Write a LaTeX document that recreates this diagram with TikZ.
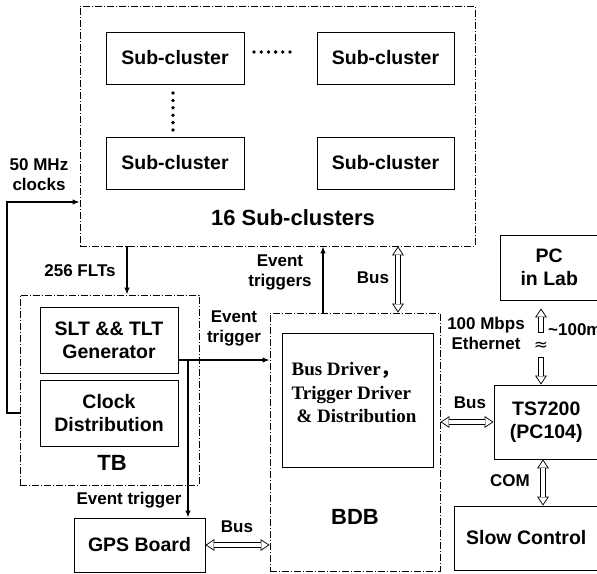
\documentclass[tikz,border=0pt]{standalone}
\usepackage{fontspec}
\setmainfont{Liberation Sans}
\newfontfamily\serifb{Liberation Serif}
\newfontfamily\cjk{Noto Sans CJK SC}
\newfontfamily\dejavu{DejaVu Sans}
\usetikzlibrary{arrows.meta,calc}
\newcommand\hollowarrow[2]{%
  \draw[hollowouter, htipA-htipA] #1 -- #2;
  \draw[hollowinner, htipB-htipB, shorten <=1.6pt, shorten >=1.6pt] #1 -- #2;}
\begin{document}
\begin{tikzpicture}[x=1pt,y=-1pt,
  box/.style={draw, line width=0.9pt, font=\bfseries\fontsize{19.5}{23}\selectfont, align=center, inner sep=0pt},
  group/.style={draw, line width=0.9pt, dash pattern=on 7pt off 2pt on 1pt off 2pt},
  lbl/.style={font=\bfseries\fontsize{17}{20}\selectfont, align=center, inner sep=0pt},
  title/.style={font=\bfseries\fontsize{22}{26}\selectfont, inner sep=0pt},
  sig/.style={line width=1.3pt, -{Latex[length=7pt,width=5.5pt]}},
  htipA/.tip={Triangle[length=9pt,width=12pt,line width=0pt 0 0]},
  htipB/.tip={Triangle[length=6.5pt,width=8.6pt,line width=0pt 0 0]},
  hollowouter/.style={black, line width=6pt},
  hollowinner/.style={white, line width=4.2pt},
  dot/.style={fill=black, draw=none}
]
\useasboundingbox (0,0) rectangle (597,573);
\clip (0,0) rectangle (597,573);

% 16 sub-clusters group
\node[group, minimum width=395pt, minimum height=240pt] (sc) at (277.5,126) {};
\node[box, minimum width=138pt, minimum height=52pt] (sc1) at (175,58) {Sub-cluster};
\node[box, minimum width=138pt, minimum height=52pt] (sc2) at (175,163) {Sub-cluster};
\node[box, minimum width=137pt, minimum height=52pt] (sc3) at (385.5,58) {Sub-cluster};
\node[box, minimum width=137pt, minimum height=52pt] (sc4) at (385.5,163) {Sub-cluster};
\foreach \i in {0,...,5} {
  \fill[dot] (254+7.2*\i,52) circle (1.9pt);
  \fill[dot] (173,93+7.4*\i) circle (1.9pt);
}
\node[title] (sctitle) at (293,218) {16 Sub-clusters};

% TB group
\node[group, minimum width=179pt, minimum height=190pt] (tb) at (109.5,390) {};
\node[box, minimum width=138pt, minimum height=66pt] (slt) at (109,340) {SLT \&\& TLT\\Generator};
\node[box, minimum width=138pt, minimum height=66pt] (clk) at (109,413) {Clock\\Distribution};
\node[title] (tbtitle) at (112,463) {TB};

% GPS
\node[box, minimum width=131pt, minimum height=54pt] (gps) at (139.5,545) {GPS Board};

% BDB group
\node[group, minimum width=170pt, minimum height=258pt] (bdb) at (355,442) {};
\node[draw, line width=0.9pt, minimum width=151pt, minimum height=134pt, inner sep=0pt] (inner) at (357.5,400) {};
\node[font=\serifb\bfseries\fontsize{19}{23.5}\selectfont, align=left, inner sep=0pt] (innertext) at (354,393)
  {Bus Driver{\cjk ，}\\Trigger Driver\\\hspace{5pt}\& Distribution};
\node[title] (bdbtitle) at (355,517) {BDB};

% right column
\node[box, minimum width=98.5pt, minimum height=65pt] (pc) at (549.25,267.5) {PC\\in Lab};
\node[box, minimum width=104.5pt, minimum height=74pt] (ts) at (546.25,422) {TS7200\\(PC104)};
\node[box, minimum width=144.5pt, minimum height=64pt] (slow) at (526.25,538) {Slow Control};

% connectors
\coordinate (clkc) at (7,202);
\draw[sig] (clk.center -| tb.west) -- (clk.center -| clkc) -- (clkc) -- (clkc -| sc.west);
\node[lbl] (l50) at (39,175) {50 MHz\\clocks};

\coordinate (fltx) at (127,0);
\draw[sig] (fltx |- sc.south) -- (fltx |- tb.north);
\node[lbl] (lflt) at (80,271) {256 FLTs};

\coordinate (etj) at (188,360);
\draw[sig] (slt.east |- etj) -- (etj -| bdb.west);
\draw[sig] (etj) -- (etj |- gps.north);
\node[lbl] (let1) at (234,328) {Event\\trigger};
\node[lbl] (let2) at (129,500) {Event trigger};

\coordinate (evx) at (323,0);
\draw[sig] (evx |- bdb.north) -- (evx |- sc.south);
\node[lbl] (levs) at (280,272) {Event\\triggers};

\coordinate (busx) at (398,0);
\hollowarrow{(busx |- bdb.north)}{(busx |- sc.south)}
\node[lbl] (lbus1) at (373,278) {Bus};

\hollowarrow{(gps.east)}{(gps.east -| bdb.west)}
\node[lbl] (lbus2) at (237,527) {Bus};

\hollowarrow{(ts.west -| bdb.east)}{(ts.west)}
\node[lbl] (lbus3) at (470,403) {Bus};

\coordinate (comx) at (543,0);
\hollowarrow{(comx |- ts.south)}{(comx |- slow.north)}
\node[lbl] (lcom) at (510,481) {COM};

\coordinate (brk1) at (541,333);
\coordinate (brk2) at (541,357);
\coordinate (ethtop) at ($(brk1 |- pc.south)+(0,8)$);
\draw[hollowouter, htipA-] (ethtop) -- (brk1);
\draw[hollowinner, htipB-, shorten <=1.6pt] (ethtop) -- ($(brk1)+(0,-0.9)$);
\draw[hollowouter, -htipA] (brk2) -- (brk2 |- ts.north);
\draw[hollowinner, -htipB, shorten >=1.6pt] ($(brk2)+(0,0.9)$) -- (brk2 |- ts.north);
\node[font=\dejavu\fontsize{17}{17}\selectfont, inner sep=0pt] (approx) at (541,346) {≈};
\node[lbl] (leth) at (486,333) {100 Mbps\\Ethernet};
\node[lbl, anchor=west] (l100m) at (548,330) {\textasciitilde100m};
\end{tikzpicture}
\end{document}
